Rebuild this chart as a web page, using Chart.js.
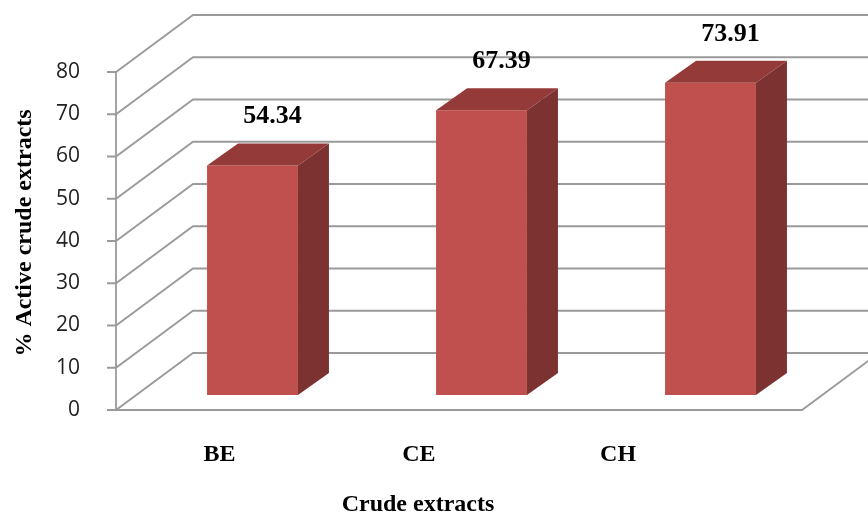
<!DOCTYPE html>
<html>
<head>
<meta charset="utf-8">
<script src="https://cdn.jsdelivr.net/npm/chart.js@4.4.1/dist/chart.umd.min.js"></script>
<style>
  html, body { margin: 0; padding: 0; background: #fff; }
</style>
</head>
<body>
<canvas id="bar-chart" width="868" height="514"></canvas>
<script>
const categories = ['BE', 'CE', 'CH'];
const activePct = [54.34, 67.39, 73.91];
const yTicks = [0, 10, 20, 30, 40, 50, 60, 70, 80];

const FRONT = '#C0504D';
const SIDE = '#7C3230';
const TOP = '#943B39';
const GRID = '#9a9a9a';
const SERIF = '"Liberation Serif", "Times New Roman", serif';

// fake 3D: walls sit behind the bar plane, floor edge/axis in front of it
const WALL_FRONT = 15;   // px the front axis sits below the bar plane
const WALL_DX = 77, WALL_DY = 57;
const BAR_DX = 31, BAR_DY = 22;

const excel3d = {
    id: 'excel3d',
    beforeDatasetsDraw(chart) {
        const { ctx, chartArea, scales: { y } } = chart;
        const axisX = chartArea.left - 22;
        const floorRight = chartArea.right - 23;
        ctx.save();
        ctx.strokeStyle = GRID;
        ctx.lineWidth = 1.8;
        yTicks.forEach(v => {
            const fy = y.getPixelForValue(v) + WALL_FRONT;
            ctx.beginPath();
            ctx.moveTo(axisX - 9, fy);
            ctx.lineTo(axisX, fy);
            ctx.lineTo(axisX + WALL_DX, fy - WALL_DY);
            ctx.lineTo(chart.width, fy - WALL_DY);
            ctx.stroke();
        });
        // front axis
        ctx.beginPath();
        ctx.moveTo(axisX, y.getPixelForValue(yTicks[yTicks.length - 1]) + WALL_FRONT);
        ctx.lineTo(axisX, y.getPixelForValue(0) + WALL_FRONT);
        ctx.stroke();
        // floor front edge + right side
        const fy0 = y.getPixelForValue(0) + WALL_FRONT;
        ctx.beginPath();
        ctx.moveTo(axisX, fy0);
        ctx.lineTo(floorRight, fy0);
        ctx.lineTo(floorRight + WALL_DX, fy0 - WALL_DY);
        ctx.stroke();
        ctx.restore();
    },
    afterDatasetsDraw(chart) {
        const { ctx, chartArea, scales: { x } } = chart;
        const meta = chart.getDatasetMeta(0);
        ctx.save();
        meta.data.forEach((bar, i) => {
            const l = bar.x - bar.width / 2, r = bar.x + bar.width / 2;
            const t = bar.y, b = bar.base;
            // top face
            ctx.fillStyle = TOP;
            ctx.beginPath();
            ctx.moveTo(l, t);
            ctx.lineTo(r, t);
            ctx.lineTo(r + BAR_DX, t - BAR_DY);
            ctx.lineTo(l + BAR_DX, t - BAR_DY);
            ctx.closePath();
            ctx.fill();
            // side face
            ctx.fillStyle = SIDE;
            ctx.beginPath();
            ctx.moveTo(r, t);
            ctx.lineTo(r + BAR_DX, t - BAR_DY);
            ctx.lineTo(r + BAR_DX, b - BAR_DY);
            ctx.lineTo(r, b);
            ctx.closePath();
            ctx.fill();
            // value label
            ctx.fillStyle = '#000';
            ctx.font = 'bold 26px ' + SERIF;
            ctx.textAlign = 'center';
            ctx.textBaseline = 'alphabetic';
            ctx.fillText(activePct[i].toFixed(2), bar.x + 20, t - 42);
        });

        // category labels, pulled toward the vanishing side
        const axisX = chartArea.left - 22;
        ctx.font = 'bold 24px ' + SERIF;
        ctx.fillStyle = '#000';
        ctx.textAlign = 'center';
        categories.forEach((c, i) => {
            const px = x.getPixelForTick(i);
            ctx.fillText(c, axisX + (px - chartArea.left) * 0.87 + 4, 461);
        });
        ctx.fillText('Crude extracts', 418, 511);

        ctx.translate(25, 233);
        ctx.rotate(-Math.PI / 2);
        ctx.textBaseline = 'middle';
        ctx.fillText('% Active crude extracts', 0, 0);
        ctx.restore();
    }
};

new Chart(document.getElementById('bar-chart').getContext('2d'), {
    type: 'bar',
    data: {
        labels: categories,
        datasets: [{
            data: activePct,
            backgroundColor: FRONT,
            borderWidth: 0,
            barPercentage: 0.397,
            categoryPercentage: 1
        }]
    },
    options: {
        responsive: false,
        devicePixelRatio: 1,
        animation: false,
        layout: { padding: { top: 57, bottom: 119, left: 0, right: 43 } },
        plugins: {
            legend: { display: false },
            tooltip: { enabled: false }
        },
        scales: {
            x: { display: false },
            y: {
                min: 0,
                max: 80,
                afterFit(scale) {
                    scale.width = 138;
                    scale.paddingTop = 0;
                    scale.paddingBottom = 0;
                },
                grid: { display: false },
                border: { display: false },
                ticks: {
                    stepSize: 10,
                    padding: 50,
                    labelOffset: WALL_FRONT,
                    color: '#222',
                    font: { family: '"Open Sans", sans-serif', size: 21 }
                }
            }
        }
    },
    plugins: [excel3d]
});
</script>
</body>
</html>
